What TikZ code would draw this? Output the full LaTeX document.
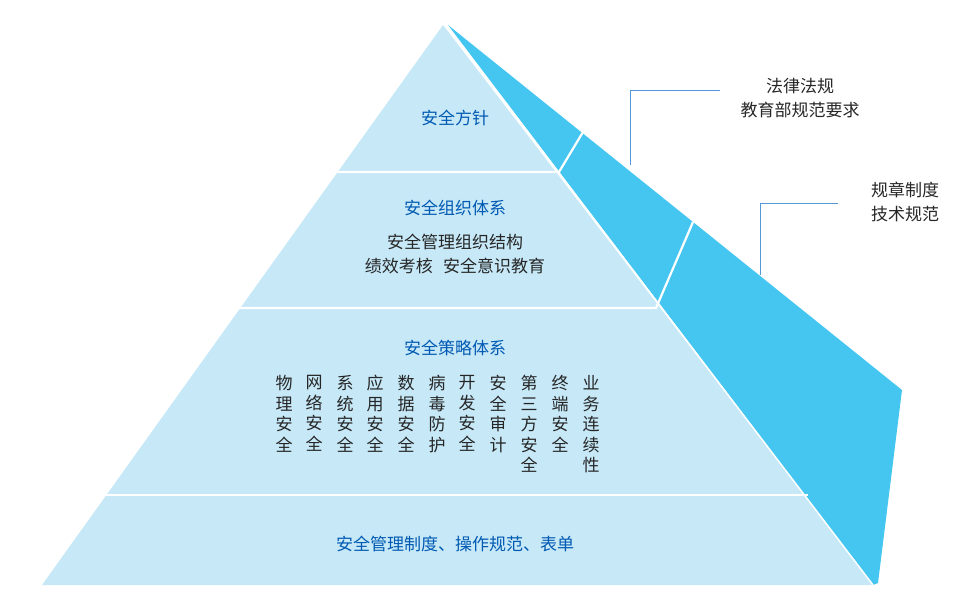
\documentclass[tikz,border=0pt]{standalone}
\usepackage{fontspec}
\setmainfont{Noto Sans CJK SC}
\begin{document}
\begin{tikzpicture}[x=1pt,y=-1pt,
  hd/.style={text=blue!50!cyan!70!black,font=\fontsize{17}{20}\selectfont},
  bd/.style={text=black!85,font=\fontsize{17}{24}\selectfont,align=center},
  vt/.style={text=black!85,font=\fontsize{17}{20.5}\selectfont,align=center,anchor=north},
  div/.style={white,line width=2.2pt},
  call/.style={draw=cyan!60!blue!70,line width=0.9pt}]
\useasboundingbox (0,0) rectangle (960,595);
\definecolor{front}{HTML}{C6E8F7}
\definecolor{side}{HTML}{45C6F1}
\coordinate (apex) at (443,25);
\coordinate (bl) at (42,585);
\coordinate (br) at (873,585);
\coordinate (sr) at (902,390);
\fill[side] (448,25) -- (sr) -- (878,583) -- (br) -- cycle;
\fill[front] (apex) -- (bl) -- (br) -- cycle;
\draw[white,line width=1.5pt] (446,25) -- (br);
\draw[div] (336,172) -- (559,172) -- (583,132);
\draw[div] (234,308) -- (656,308) -- (693,222);
\draw[div] (100,495) -- (808,495);
% callouts
\coordinate (c1) at (630,165);
\coordinate (c2) at (760,275);
\draw[call] (c1) -- (630,90) -- (720,90);
\draw[call] (c2) -- (760,203) -- (838,203);
\node[bd] (law) at (800,98) {法律法规\\教育部规范要求};
\node[bd] (reg) at (905,202) {规章制度\\技术规范};
\node[hd] (t1) at (455,118) {安全方针};
\node[hd] (t2) at (455,208) {安全组织体系};
\node[bd] (t2b) at (455,254) {安全管理组织结构\\绩效考核\hspace{0.6em}安全意识教育};
\node[hd] (t3) at (455,348) {安全策略体系};
\foreach \x/\t [count=\i] in {284/物\\理\\安\\全,314/网\\络\\安\\全,345/系\\统\\安\\全,375/应\\用\\安\\全,406/数\\据\\安\\全,437/病\\毒\\防\\护,467/开\\发\\安\\全,498/安\\全\\审\\计,529/第\\三\\方\\安\\全,560/终\\端\\安\\全,591/业\\务\\连\\续\\性}
  \node[vt] (v\i) at (\x,372) {\t};
\node[hd] (t4) at (455,544) {安全管理制度、操作规范、表单};
\end{tikzpicture}
\end{document}
